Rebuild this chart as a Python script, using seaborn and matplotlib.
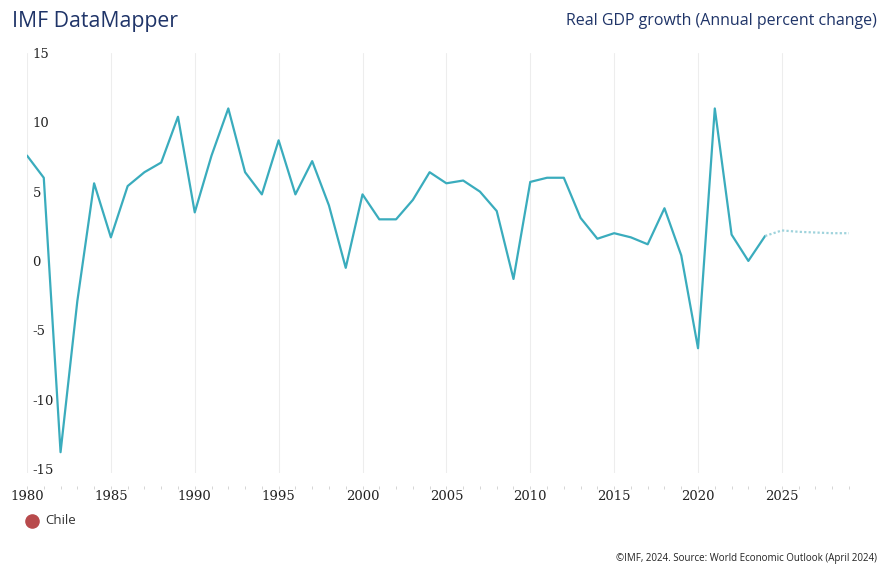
import matplotlib
matplotlib.use("Agg")
import matplotlib.pyplot as plt
import seaborn as sns
import pandas as pd
from matplotlib.ticker import MultipleLocator

# ---- data ----
years = list(range(1980, 2030))
growth = [7.6, 6.0, -13.8, -2.9, 5.6, 1.7, 5.4, 6.4, 7.1, 10.4,
          3.5, 7.6, 11.0, 6.4, 4.8, 8.7, 4.8, 7.2, 4.0, -0.5,
          4.8, 3.0, 3.0, 4.4, 6.4, 5.6, 5.8, 5.0, 3.6, -1.3,
          5.7, 6.0, 6.0, 3.1, 1.6, 2.0, 1.7, 1.2, 3.8, 0.4,
          -6.3, 11.0, 1.9, 0.0, 1.8, 2.2, 2.1, 2.05, 2.0, 2.0]
last_actual_year = 2024
country = "Chile"
title_left = "IMF DataMapper"
title_right = "Real GDP growth (Annual percent change)"
footer = "\u00a9IMF, 2024. Source: World Economic Outlook (April 2024)"
y_ticks = [-15, -10, -5, 0, 5, 10, 15]
x_ticks = list(range(1980, 2030, 5))

df = pd.DataFrame({"year": years, "growth": growth})
actual = df[df["year"] <= last_actual_year]
forecast = df[df["year"] >= last_actual_year]

sns.set_theme(style="white")
plt.rcParams["font.family"] = ["Open Sans", "DejaVu Sans"]
plt.rcParams["axes.unicode_minus"] = False

W, H = 879, 564
fig = plt.figure(figsize=(W / 100, H / 100), dpi=100)
ax = fig.add_axes([27 / W, (H - 473) / H, (849 - 27) / W, (473 - 53) / H])

line_color = "#3aacbd"
sns.lineplot(data=actual, x="year", y="growth", ax=ax, color=line_color,
             linewidth=1.6, legend=False)
sns.lineplot(data=forecast, x="year", y="growth", ax=ax, color="#9fd3dc",
             linewidth=1.6, linestyle=(0, (1, 1)), legend=False)

ax.set_xlim(1980, 2029)
ax.set_ylim(-15.3, 15)
ax.set_xlabel("")
ax.set_ylabel("")

# vertical gridlines
ax.set_xticks(x_ticks)
ax.xaxis.set_minor_locator(MultipleLocator(1))
ax.grid(axis="x", which="major", color="#ededed", linewidth=0.75)
ax.grid(axis="y", visible=False)
for s in ax.spines.values():
    s.set_visible(False)
ax.spines["bottom"].set_position(("outward", 9))

ax.tick_params(axis="x", which="both", length=2, color="#d5d5d5", width=0.7,
               direction="out", bottom=True, pad=1.5,
               labelsize=9.5, labelcolor="#222222")
for lab in ax.get_xticklabels():
    lab.set_fontfamily("DejaVu Serif")

ax.set_yticks(y_ticks)
ax.tick_params(axis="y", length=0, pad=-4, labelsize=9.5, labelcolor="#222222")
for lab in ax.get_yticklabels():
    lab.set_fontfamily("DejaVu Serif")
    lab.set_horizontalalignment("left")

# titles
fig.text(12 / W, 1 - 21 / H, title_left, ha="left", va="center",
         fontsize=15.3, color="#1f3468")
fig.text(877 / W, 1 - 21 / H, title_right, ha="right", va="center",
         fontsize=11.5, color="#1f3468")

# legend + footer (pixel-coordinate overlay)
leg_ax = fig.add_axes([0, 0, 1, 1], facecolor="none")
leg_ax.set_xlim(0, W)
leg_ax.set_ylim(H, 0)
leg_ax.axis("off")
leg_ax.scatter([32], [521], s=90, color="#b84a4c", zorder=3)
leg_ax.text(45, 521, country, ha="left", va="center", fontsize=9.5,
            color="#333333")
leg_ax.text(877, 559, footer, ha="right", va="center", fontsize=7,
            color="#222222")

fig.savefig("out.png", dpi=100)
